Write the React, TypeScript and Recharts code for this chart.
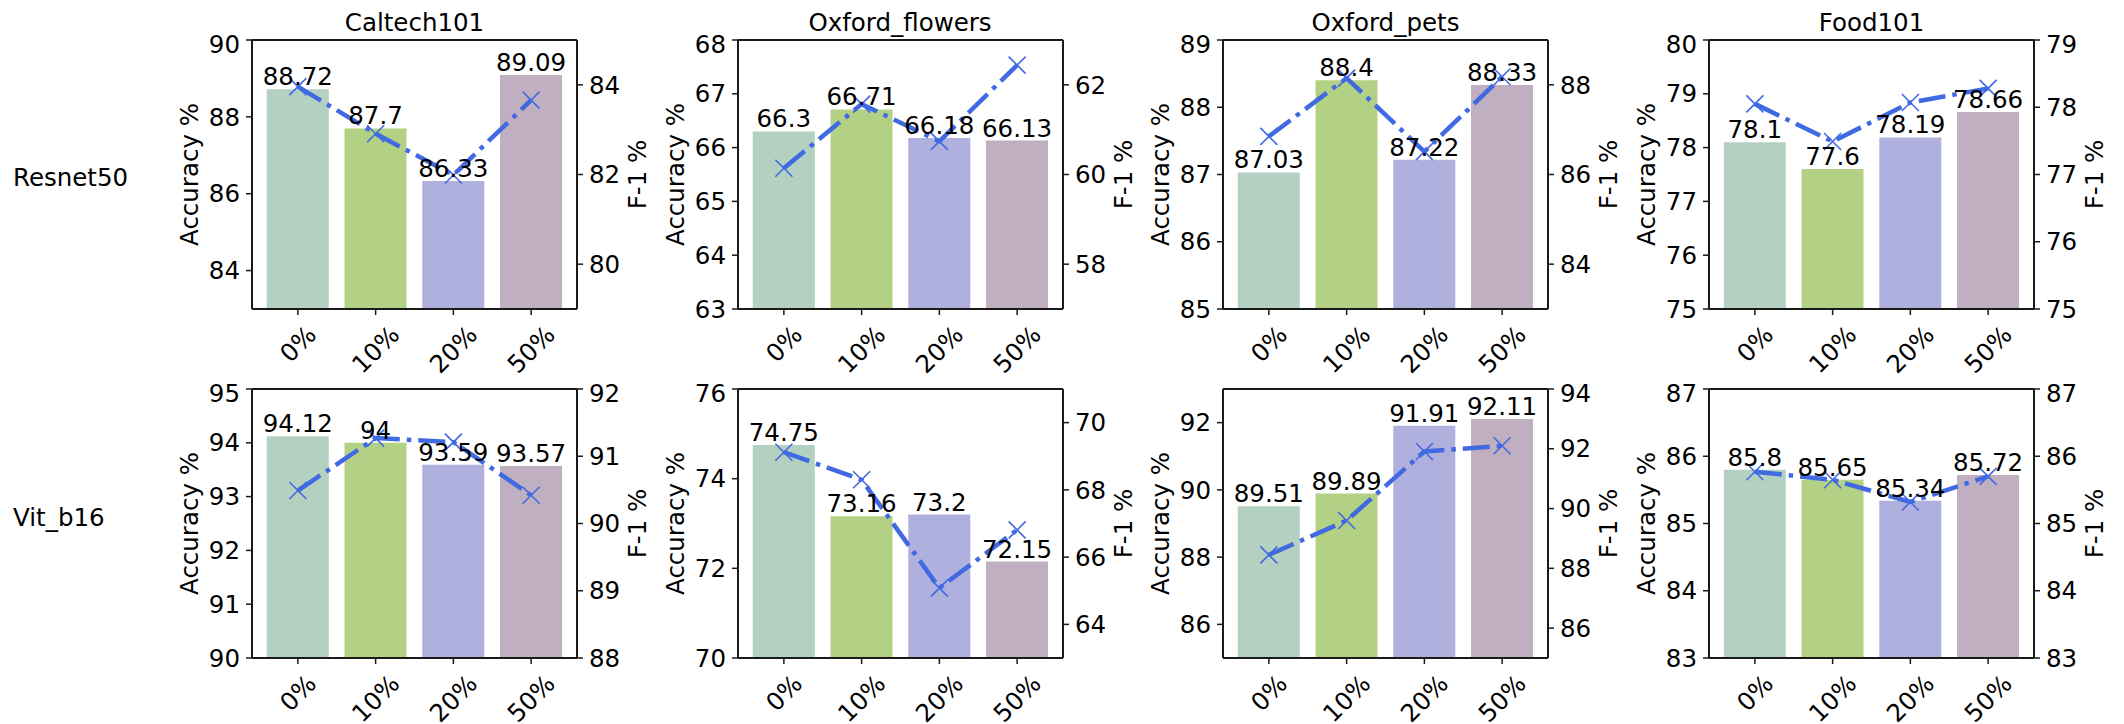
import React from "react";
import {
  ComposedChart,
  Bar,
  Line,
  XAxis,
  YAxis,
  Cell,
  LabelList,
  ReferenceLine,
} from "recharts";

// categories + labels
const categories = ["0%", "10%", "20%", "50%"];
const datasets = ["Caltech101", "Oxford_flowers", "Oxford_pets", "Food101"];
const backbones = ["Resnet50", "Vit_b16"];

// Resnet50 row
const caltechResnetAcc = [88.72, 87.7, 86.33, 89.09];
const caltechResnetF1 = [83.96, 82.91, 81.99, 83.66];
const flowersResnetAcc = [66.3, 66.71, 66.18, 66.13];
const flowersResnetF1 = [60.14, 61.57, 60.74, 62.44];
const petsResnetAcc = [87.03, 88.4, 87.22, 88.33];
const petsResnetF1 = [86.85, 88.15, 86.51, 88.18];
const foodResnetAcc = [78.1, 77.6, 78.19, 78.66];
const foodResnetF1 = [78.05, 77.49, 78.07, 78.28];

// Vit_b16 row
const caltechVitAcc = [94.12, 94, 93.59, 93.57];
const caltechVitF1 = [90.49, 91.27, 91.21, 90.42];
const flowersVitAcc = [74.75, 73.16, 73.2, 72.15];
const flowersVitF1 = [69.12, 68.3, 65.08, 66.81];
const petsVitAcc = [89.51, 89.89, 91.91, 92.11];
const petsVitF1 = [88.45, 89.6, 91.91, 92.1];
const foodVitAcc = [85.8, 85.65, 85.34, 85.72];
const foodVitF1 = [85.77, 85.65, 85.32, 85.7];

// axis limits / ticks per panel (row-major)
const accDomains = [
  [83, 90], [63, 68], [85, 89], [75, 80],
  [90, 95], [70, 76], [85, 93], [83, 87],
];
const accTicks = [
  [84, 86, 88, 90], [63, 64, 65, 66, 67, 68], [85, 86, 87, 88, 89], [75, 76, 77, 78, 79, 80],
  [90, 91, 92, 93, 94, 95], [70, 72, 74, 76], [86, 88, 90, 92], [83, 84, 85, 86, 87],
];
const f1Domains = [
  [79, 85], [57, 63], [83, 89], [75, 79],
  [88, 92], [63, 71], [85, 94], [83, 87],
];
const f1Ticks = [
  [80, 82, 84], [58, 60, 62], [84, 86, 88], [75, 76, 77, 78, 79],
  [88, 89, 90, 91, 92], [64, 66, 68, 70], [86, 88, 90, 92, 94], [83, 84, 85, 86, 87],
];

const accSeries = [
  caltechResnetAcc, flowersResnetAcc, petsResnetAcc, foodResnetAcc,
  caltechVitAcc, flowersVitAcc, petsVitAcc, foodVitAcc,
];
const f1Series = [
  caltechResnetF1, flowersResnetF1, petsResnetF1, foodResnetF1,
  caltechVitF1, flowersVitF1, petsVitF1, foodVitF1,
];

const barColors = ["#b3d0c1", "#b3d185", "#b0b0df", "#c0afc1"];
const lineColor = "#4169e1";
const ink = "#1a1a1a";
const FONT = 24.5;

const FRAME_W = 325;
const FRAME_H = 269;
const AXIS_W = 80;
const X_AXIS_H = 80;
const TOP_PAD = 10;
const colLefts = [252, 737.5, 1223, 1709];
const rowTops = [40, 389];

function XTick({ x, y, payload }: any) {
  const label = String(payload.value);
  // rough text width so the rotated label is centred under its tick
  const w = [...label].reduce((s, c) => s + (c === "%" ? 0.95 : 0.636), 0) * FONT;
  const h = 0.73 * FONT;
  const cy = y + 7 + (w + h) * 0.3536;
  return (
    <text
      x={x}
      y={cy}
      textAnchor="middle"
      dominantBaseline="central"
      transform={`rotate(-45 ${x} ${cy})`}
      fontSize={FONT}
      fill="#000"
    >
      {label}
    </text>
  );
}

function XMark({ cx, cy }: any) {
  if (cx == null || cy == null) return null;
  const r = 8.5;
  return (
    <g stroke={lineColor} strokeWidth={1.6}>
      <line x1={cx - r} y1={cy - r} x2={cx + r} y2={cy + r} />
      <line x1={cx - r} y1={cy + r} x2={cx + r} y2={cy - r} />
    </g>
  );
}

function axisTitle(text: string, side: "left" | "right") {
  return () => {
    const x = side === "left" ? AXIS_W - 63 : AXIS_W + FRAME_W + 60;
    const y = TOP_PAD + FRAME_H / 2;
    return (
      <text
        x={x}
        y={y}
        textAnchor="middle"
        dominantBaseline="central"
        transform={`rotate(-90 ${x} ${y})`}
        fontSize={FONT}
        fill="#000"
      >
        {text}
      </text>
    );
  };
}

function Panel({ idx }: { idx: number }) {
  const data = categories.map((c, i) => ({
    cat: c,
    acc: accSeries[idx][i],
    f1: f1Series[idx][i],
  }));
  const row = Math.floor(idx / 4);
  const col = idx % 4;
  const accDom = accDomains[idx];

  return (
    <div
      style={{
        position: "absolute",
        left: colLefts[col] - AXIS_W,
        top: rowTops[row] - TOP_PAD,
      }}
    >
      <ComposedChart
        width={FRAME_W + AXIS_W * 2}
        height={FRAME_H + TOP_PAD + X_AXIS_H}
        data={data}
        margin={{ top: TOP_PAD, right: 0, bottom: 0, left: 0 }}
        barCategoryGap="10%"
      >
        <XAxis
          dataKey="cat"
          height={X_AXIS_H}
          interval={0}
          padding={{ left: 7, right: 7 }}
          tickSize={6}
          tickMargin={2}
          axisLine={{ stroke: ink, strokeWidth: 2 }}
          tickLine={{ stroke: ink, strokeWidth: 1.5 }}
          tick={<XTick />}
        />
        <YAxis
          yAxisId="left"
          orientation="left"
          width={AXIS_W}
          domain={accDom}
          ticks={accTicks[idx]}
          allowDataOverflow
          tickSize={6}
          tickMargin={6}
          axisLine={{ stroke: ink, strokeWidth: 2 }}
          tickLine={{ stroke: ink, strokeWidth: 1.5 }}
          tick={{ fontSize: FONT, fill: "#000" }}
          label={axisTitle("Accuracy %", "left")}
        />
        <YAxis
          yAxisId="right"
          orientation="right"
          width={AXIS_W}
          domain={f1Domains[idx]}
          ticks={f1Ticks[idx]}
          allowDataOverflow
          tickSize={6}
          tickMargin={6}
          axisLine={{ stroke: ink, strokeWidth: 2 }}
          tickLine={{ stroke: ink, strokeWidth: 1.5 }}
          tick={{ fontSize: FONT, fill: "#000" }}
          label={axisTitle("F-1 %", "right")}
        />
        <ReferenceLine yAxisId="left" y={accDom[1]} stroke={ink} strokeWidth={2} />
        <Bar dataKey="acc" yAxisId="left" isAnimationActive={false}>
          {data.map((_, i) => (
            <Cell key={i} fill={barColors[i]} />
          ))}
          <LabelList dataKey="acc" position="top" offset={4} fontSize={FONT} fill="#000" />
        </Bar>
        <Line
          type="linear"
          dataKey="f1"
          yAxisId="right"
          stroke={lineColor}
          strokeWidth={4.5}
          strokeDasharray="27 7 4.5 7"
          dot={<XMark />}
          activeDot={false}
          isAnimationActive={false}
        />
      </ComposedChart>
    </div>
  );
}

export default function App() {
  return (
    <div
      style={{
        position: "absolute",
        left: 0,
        top: 0,
        width: 2124,
        height: 724,
        background: "#fff",
        fontFamily: '"DejaVu Sans", sans-serif',
      }}
    >
      <svg width={2124} height={724} style={{ position: "absolute", left: 0, top: 0 }}>
        {datasets.map((name, c) => (
          <text
            key={name}
            x={colLefts[c] + FRAME_W / 2}
            y={rowTops[0] - 9}
            textAnchor="middle"
            fontSize={FONT}
            fill="#000"
          >
            {name}
          </text>
        ))}
        {backbones.map((name, r) => (
          <text
            key={name}
            x={13}
            y={r === 0 ? 177 : 517}
            dominantBaseline="central"
            fontSize={FONT}
            fill="#000"
          >
            {name}
          </text>
        ))}
      </svg>
      {accSeries.map((_, i) => (
        <Panel key={i} idx={i} />
      ))}
    </div>
  );
}
